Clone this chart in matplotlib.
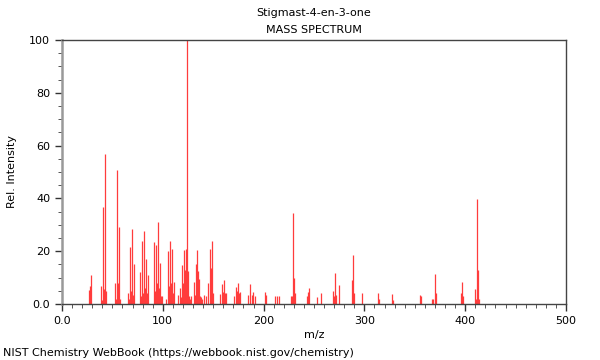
import matplotlib
matplotlib.use('Agg')
import matplotlib.pyplot as plt
from matplotlib.ticker import MultipleLocator, FuncFormatter

title = 'Stigmast-4-en-3-one'
subtitle = 'MASS SPECTRUM'
footer = 'NIST Chemistry WebBook (https://webbook.nist.gov/chemistry)'

# m/z values and relative intensities
mz = [27, 28, 29, 39, 40, 41, 42, 43, 44,
      53, 54, 55, 56, 57, 58, 65, 66, 67, 68, 69, 70, 71,
      77, 78, 79, 80, 81, 82, 83, 84, 85,
      91, 92, 93, 94, 95, 96, 97, 98, 99, 103,
      105, 106, 107, 108, 109, 110, 111, 115, 117, 118, 119, 120, 121, 122, 123, 124, 125, 126, 127, 128,
      131, 132, 133, 134, 135, 136, 137, 138, 139, 141, 143, 145, 147, 148, 149, 150,
      157, 159, 160, 161, 162, 163, 171, 173, 174, 175, 176, 177,
      185, 187, 188, 189, 191, 201, 202, 211, 213, 215,
      227, 228, 229, 230, 231, 243, 244, 245, 253, 257,
      269, 270, 271, 272, 275, 288, 289, 290, 298, 313, 314, 327, 328,
      355, 356, 367, 368, 370, 371, 396, 397, 398, 410, 411, 412, 413, 414]
intensity = [5.3, 7, 11, 6.8, 1.5, 36.7, 5.5, 56.7, 5,
             7.8, 2, 50.8, 8, 29, 2, 4, 2, 21.5, 5, 28.4, 3.5, 15,
             12, 3, 24, 4, 27.6, 6, 17, 4, 11,
             23.5, 5, 22.3, 8, 31, 6, 15.5, 3, 3, 2,
             20, 7, 24, 8, 21, 4, 8.5, 3.5, 6, 2.5, 14.6, 7.8, 20.5, 12.9, 21, 100, 12.5, 3, 2, 3,
             8.5, 3.5, 15, 20.5, 12.5, 9.5, 3, 2.5, 2, 3.5, 3, 7.8, 20.8, 13.5, 24, 4,
             3.9, 7.6, 4.5, 9, 4, 4, 3, 6.6, 5, 8, 4, 4.7,
             3.5, 7.4, 3.5, 4.5, 3, 4.7, 3.5, 3, 3, 3,
             3, 3, 34.6, 10, 4, 3, 4.5, 6, 2.5, 4,
             5, 3, 11.6, 3.5, 7.2, 9, 18.4, 4, 4, 4, 2, 3.9, 1.5,
             3.5, 3, 2, 2, 11.2, 4, 4, 8.5, 3, 5.7, 2, 39.6, 12.9, 2]

fig = plt.figure(figsize=(6, 3.6), dpi=100)
ax = fig.add_axes([62 / 600, 56 / 360, 504 / 600, 264 / 360])

ax.vlines(mz, 0, intensity, colors='#ff3c3c', linewidth=0.9)

ax.set_xlim(0, 500)
ax.set_ylim(0, 100)

fmt = FuncFormatter(lambda v, p: '0.0' if v == 0 else f'{v:.0f}')
ax.xaxis.set_major_locator(MultipleLocator(100))
ax.xaxis.set_minor_locator(MultipleLocator(10))
ax.yaxis.set_major_locator(MultipleLocator(20))
ax.yaxis.set_minor_locator(MultipleLocator(5))
ax.xaxis.set_major_formatter(fmt)
ax.yaxis.set_major_formatter(fmt)
ax.tick_params(which='major', direction='out', length=5, width=1, color='#333333', labelsize=8)
ax.tick_params(which='minor', direction='out', length=3, width=0.7, color='#555555')

for s in ['top', 'right', 'bottom']:
    ax.spines[s].set_color('#444444')
    ax.spines[s].set_linewidth(1)
ax.spines['left'].set_color('#999999')
ax.spines['left'].set_linewidth(1.8)

ax.set_xlabel('m/z', fontsize=8, labelpad=3)
ax.set_ylabel('Rel. Intensity', fontsize=8, labelpad=9)

fig.text(314 / 600, 1 - 13 / 360, title, ha='center', va='center', fontsize=8)
fig.text(314 / 600, 1 - 30 / 360, subtitle, ha='center', va='center', fontsize=8)
fig.text(3 / 600, 1 - 353 / 360, footer, ha='left', va='center', fontsize=8)

fig.savefig('out.png', dpi=100)
